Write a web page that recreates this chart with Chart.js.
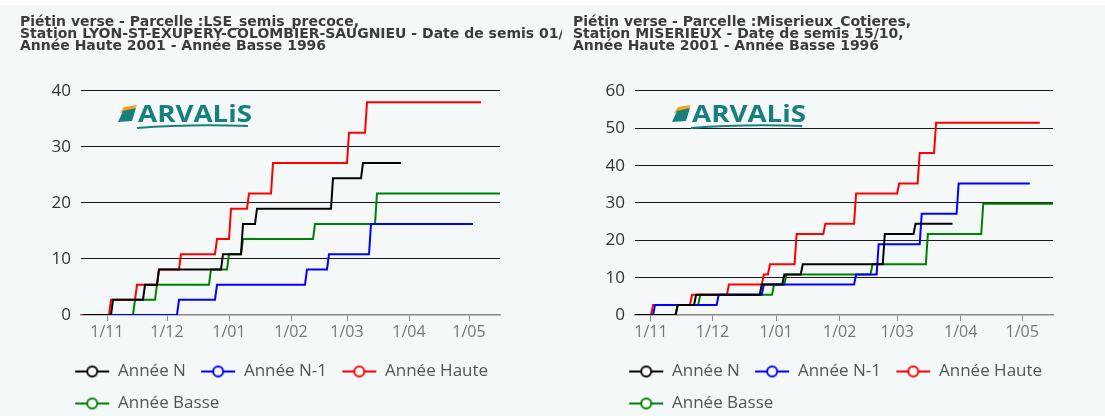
<!DOCTYPE html>
<html>
<head>
<meta charset="utf-8">
<script src="https://cdn.jsdelivr.net/npm/chart.js@4.4.0/dist/chart.umd.min.js"></script>
<style>
  html, body { margin: 0; padding: 0; background: #fff; overflow: hidden; width: 1105px; height: 416px; }
  #fond { position: absolute; left: 0; top: 5px; width: 1105px; height: 411px; background: #f4f8f9; overflow: hidden; }
  canvas { position: absolute; top: 0; }
  #c1 { left: 0; }
  #c2 { left: 562px; }
</style>
</head>
<body>
<div id="fond">
  <canvas id="c1" width="562" height="417"></canvas>
  <canvas id="c2" width="543" height="417"></canvas>
</div>
<script>
// jour 0 = 1er octobre ; chaque serie : premier jour, jours des marches, dernier jour
const moisJours = [31, 61, 92, 123, 151, 182, 212];
const moisLabels = ['1/11', '1/12', '1/01', '1/02', '1/03', '1/04', '1/05'];
const seriesNoms = ['Année N', 'Année N-1', 'Année Haute', 'Année Basse'];

// Parcelle LSE_semis_precoce
const lseNJours = [19.5, 33, 49, 56, 88, 98, 105, 143, 158, 178];
const lseNValeurs = [0, 2.71, 5.42, 8.14, 10.85, 16.27, 18.98, 24.41, 27.12, 27.12];
const lseN1Jours = [19, 66, 85, 130, 141, 162, 214];
const lseN1Valeurs = [0, 2.71, 5.42, 8.14, 10.85, 16.27, 16.27];
const lseHauteJours = [18, 32, 45, 56, 67, 85, 92, 101, 113, 151, 160, 218];
const lseHauteValeurs = [0, 2.71, 5.42, 8.14, 10.85, 13.56, 18.98, 21.69, 27.12, 32.54, 37.97, 37.97];
const lseBasseJours = [18, 44, 55, 82, 91, 98, 134, 165, 227.5];
const lseBasseValeurs = [0, 2.71, 5.42, 8.14, 10.85, 13.56, 16.27, 21.69, 21.69];

// Parcelle Miserieux_Cotieres
const misNJours = [23.2, 43, 52, 84, 95, 104, 144, 159, 178];
const misNValeurs = [0, 2.71, 5.42, 8.14, 10.85, 13.56, 21.69, 24.41, 24.41];
const misN1Jours = [23.2, 32, 63, 85, 130, 141, 162, 180, 215.7];
const misN1Valeurs = [0, 2.71, 5.42, 8.14, 10.85, 18.98, 27.12, 35.25, 35.25];
const misHauteJours = [23.2, 31, 50, 68, 85, 88, 101, 115, 130, 151, 161, 169, 220.6];
const misHauteValeurs = [0, 2.71, 5.42, 8.14, 10.85, 13.56, 21.69, 24.41, 32.54, 35.25, 43.39, 51.52, 51.52];
const misBasseJours = [23.2, 43, 54, 90, 96, 138, 165, 192, 227];
const misBasseValeurs = [0, 2.71, 5.42, 8.14, 10.85, 13.56, 21.69, 29.83, 29.83];

const couleurs = ['#000000', '#0000ff', '#ff0000', '#008000'];

Chart.defaults.font.family = '"Open Sans", sans-serif';

// marches : le saut se fait sur une journee
function marches(jours, valeurs) {
  const pts = [{ x: jours[0], y: valeurs[0] }];
  for (let i = 1; i < jours.length - 1; i++) {
    pts.push({ x: jours[i], y: valeurs[i - 1] });
    pts.push({ x: jours[i] + 1, y: valeurs[i] });
  }
  pts.push({ x: jours[jours.length - 1], y: valeurs[valeurs.length - 1] });
  return pts;
}

function iconeLegende(couleur) {
  const c = document.createElement('canvas');
  c.width = 36; c.height = 14;
  const g = c.getContext('2d');
  g.strokeStyle = couleur; g.lineWidth = 2;
  g.beginPath(); g.moveTo(1, 7); g.lineTo(35, 7); g.stroke();
  g.beginPath(); g.arc(18, 7, 5, 0, Math.PI * 2);
  g.fillStyle = '#ffffff'; g.fill(); g.stroke();
  return c;
}

const logo = {
  id: 'logo',
  beforeDatasetsDraw(chart) {
    const { ctx, chartArea } = chart;
    const x = chartArea.left + 57, y = chartArea.top + 31;
    ctx.save();
    ctx.fillStyle = '#f2a31b';
    ctx.beginPath();
    ctx.moveTo(x - 18, y - 9); ctx.lineTo(x - 14, y - 15); ctx.lineTo(x - 1, y - 17); ctx.lineTo(x - 4, y - 12);
    ctx.closePath(); ctx.fill();
    ctx.fillStyle = '#177f7d';
    ctx.beginPath();
    ctx.moveTo(x - 15, y - 11); ctx.lineTo(x - 2, y - 14); ctx.lineTo(x - 6, y - 1); ctx.lineTo(x - 20, y + 0);
    ctx.closePath(); ctx.fill();
    ctx.font = 'bold 24px "Open Sans", sans-serif';
    ctx.textBaseline = 'alphabetic';
    const w = ctx.measureText('ARVALiS').width;
    ctx.translate(x, y);
    ctx.scale(114 / w, 1);
    ctx.fillText('ARVALiS', 0, 0);
    ctx.setTransform(1, 0, 0, 1, 0, 0);
    ctx.strokeStyle = '#177f7d';
    ctx.lineWidth = 2;
    ctx.beginPath();
    ctx.moveTo(x - 1, y + 6);
    ctx.quadraticCurveTo(x + 50, y + 2, x + 110, y + 4);
    ctx.stroke();
    ctx.restore();
  }
};

// legende alignee sous l'axe, titre non compresse (coupe par le bord du canvas)
const miseEnPlace = {
  id: 'miseEnPlace',
  beforeDraw(chart) {
    const lg = chart.legend;
    lg.left = chart.chartArea.left - 21;
    lg.right = lg.left + lg.width;
    chart.titleBlock.right = chart.titleBlock.left + 2000;
  }
};

function graphique(id, titre, series, xMin, xMax, yMax, pad) {
  new Chart(document.getElementById(id), {
    type: 'line',
    data: {
      datasets: series.map((s, i) => ({
        label: seriesNoms[i],
        data: marches(s[0], s[1]),
        borderColor: couleurs[i],
        backgroundColor: couleurs[i],
        borderWidth: 2,
        pointRadius: 0,
        pointStyle: iconeLegende(couleurs[i]),
        tension: 0,
        fill: false
      }))
    },
    options: {
      responsive: false,
      animation: false,
      events: [],
      layout: { padding: { left: pad[0], right: pad[1], top: 0, bottom: 0 } },
      scales: {
        x: {
          type: 'linear',
          min: xMin,
          max: xMax,
          afterBuildTicks: (s) => { s.ticks = moisJours.map(v => ({ value: v })); },
          afterFit: (s) => { s.height = 33; },
          ticks: {
            autoSkip: false,
            maxRotation: 0,
            padding: 2,
            color: '#777',
            font: { size: 16 },
            callback: (v) => moisLabels[moisJours.indexOf(v)]
          },
          grid: { drawOnChartArea: false, drawTicks: true, tickLength: 6, color: '#8a8a8a' },
          border: { display: true, color: '#8a8a8a', width: 1.5 }
        },
        y: {
          min: 0,
          max: yMax,
          afterFit: (s) => { s.width = pad[2]; },
          ticks: { stepSize: 10, padding: 10, color: '#333', font: { size: 17 } },
          grid: {
            drawTicks: false,
            color: (c) => c.tick.value === 0 ? 'rgba(0,0,0,0)' : '#1a1a1a',
            lineWidth: 1
          },
          border: { display: false }
        }
      },
      plugins: {
        tooltip: { enabled: false },
        title: {
          display: true,
          text: titre,
          align: 'start',
          color: '#3c3c3c',
          font: { family: '"DejaVu Sans", sans-serif', size: 14, weight: 'bold', lineHeight: 0.857 },
          padding: { top: 11, bottom: 39 }
        },
        legend: {
          position: 'bottom',
          align: 'start',
          labels: {
            usePointStyle: true,
            pointStyleWidth: 34.5,
            padding: 15,
            color: '#555',
            font: { size: 17 }
          }
        }
      }
    },
    plugins: [logo, miseEnPlace]
  });
}

graphique('c1', [
  'Piétin verse - Parcelle :LSE_semis_precoce,',
  'Station LYON-ST-EXUPERY-COLOMBIER-SAUGNIEU - Date de semis 01/10,',
  'Année Haute 2001 - Année Basse 1996'
], [[lseNJours, lseNValeurs], [lseN1Jours, lseN1Valeurs], [lseHauteJours, lseHauteValeurs], [lseBasseJours, lseBasseValeurs]],
  18, 227.5, 40, [20, 62, 61]);

graphique('c2', [
  'Piétin verse - Parcelle :Miserieux_Cotieres,',
  'Station MISERIEUX - Date de semis 15/10,',
  'Année Haute 2001 - Année Basse 1996'
], [[misNJours, misNValeurs], [misN1Jours, misN1Valeurs], [misHauteJours, misHauteValeurs], [misBasseJours, misBasseValeurs]],
  23.2, 227, 60, [11, 52, 62]);
</script>
</body>
</html>
